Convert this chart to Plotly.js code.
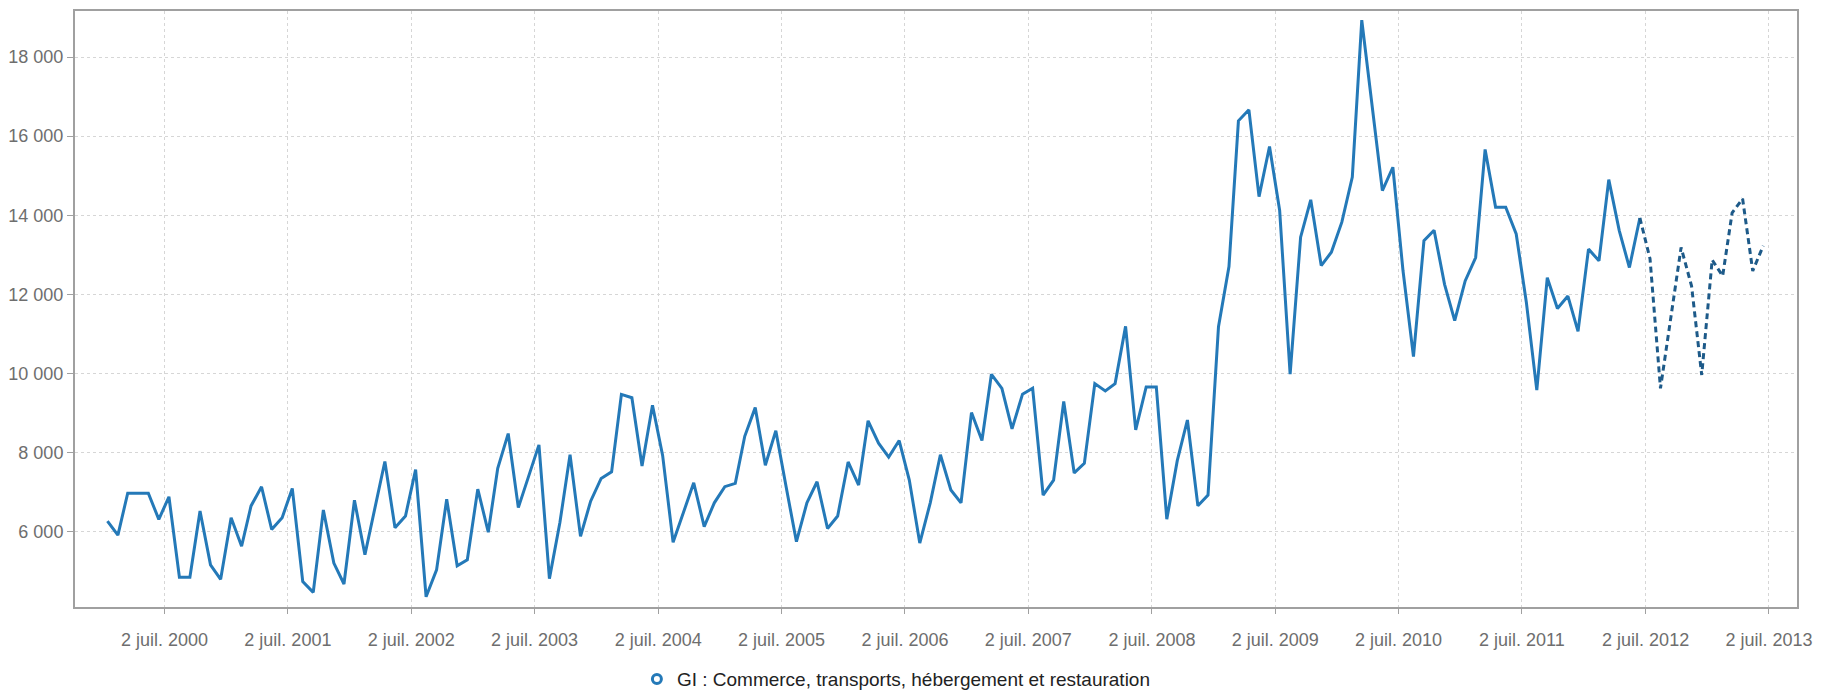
<!DOCTYPE html>
<html>
<head>
<meta charset="utf-8">
<script src="https://cdn.plot.ly/plotly-3.0.1.min.js"></script>
<style>
  html, body { margin: 0; padding: 0; background: #fff; }
  #chart { width: 1823px; height: 698px; }
</style>
</head>
<body>
<div id="chart"></div>
<script>
// Monthly values, observed series: January 2000 to June 2012
const observed = [
  6264, 5906, 6970, 6970, 6970, 6306, 6877, 4843, 4843, 6519, 5157, 4791,
  6349, 5626, 6647, 7132, 6051, 6349, 7089, 4732, 4460, 6545, 5200, 4672,
  6791, 5413, 6519, 7770, 6094, 6391, 7566, 4349, 5030, 6817, 5132, 5285,
  7072, 5983, 7600, 8477, 6604, 7413, 8190, 4808, 6225, 7942, 5875, 6767,
  7342, 7508, 9467, 9383, 7658, 9192, 7925, 5725, 6475, 7233, 6125, 6725,
  7133, 7217, 8408, 9133, 7675, 8550, 7150, 5742, 6725, 7258, 6075, 6392,
  7758, 7175, 8800, 8233, 7883, 8300, 7300, 5708, 6725, 7942, 7050, 6725,
  9008, 8300, 9975, 9620, 8594, 9473, 9623, 6920, 7297, 9289, 7481, 7724,
  9741, 9556, 9741, 11188, 8569, 9657, 9657, 6310, 7791, 8820, 6650, 6920,
  11180, 12700, 16387, 16666, 14470, 15737, 14118, 9980, 13443, 14389, 12725, 13063,
  13823, 14963, 18932, 16700, 14622, 15213, 12600, 10424, 13354, 13620, 12251, 11334,
  12336, 12930, 15664, 14204, 14204, 13525, 11800, 9576, 12420, 11640, 11954, 11063,
  13143, 12846, 14900, 13610, 12676, 13930
];
// Forecast series (dashed): June 2012 to June 2013
const forecast = [
  13930, 12900, 9620, 11500, 13185, 12209, 9959,
  12870, 12463, 14060, 14416, 12590, 13227
];
const observedStart = [2000, 1];
const forecastStart = [2012, 6];
const tickYears = [2000, 2001, 2002, 2003, 2004, 2005, 2006, 2007, 2008, 2009, 2010, 2011, 2012, 2013];
const yTicks = [6000, 8000, 10000, 12000, 14000, 16000, 18000];
const seriesName = "GI : Commerce, transports, hébergement et restauration";

function monthDates(start, n) {
  const out = [];
  let y = start[0], m = start[1];
  for (let i = 0; i < n; i++) {
    out.push(y + "-" + String(m).padStart(2, "0") + "-15");
    m++; if (m > 12) { m = 1; y++; }
  }
  return out;
}

const tickVals = tickYears.map(y => y + "-07-02");
const tickText = tickYears.map(y => "2 juil. " + y);
const yTickText = yTicks.map(v => String(v).replace(/\B(?=(\d{3})+(?!\d))/g, " "));

const font = "Liberation Sans, Arial, sans-serif";

const traces = [
  {
    x: monthDates(observedStart, observed.length),
    y: observed,
    type: "scatter", mode: "lines",
    line: { color: "#2479b8", width: 3 },
    showlegend: false, hoverinfo: "x+y"
  },
  {
    x: monthDates(forecastStart, forecast.length),
    y: forecast,
    type: "scatter", mode: "lines",
    line: { color: "#1d5a89", width: 3, dash: "6px,4px" },
    showlegend: false, hoverinfo: "x+y"
  },
  {
    x: [null], y: [null],
    type: "scatter", mode: "markers",
    name: seriesName,
    marker: { symbol: "circle-open", size: 9, color: "#2479b8", line: { width: 3, color: "#2479b8" } },
    showlegend: true
  }
];

const layout = {
  width: 1823, height: 698,
  margin: { l: 75, r: 26, t: 11, b: 91, autoexpand: false },
  paper_bgcolor: "#ffffff",
  plot_bgcolor: "#ffffff",
  font: { family: font, size: 18, color: "#6e6e6e" },
  xaxis: {
    type: "date",
    automargin: false,
    range: ["1999-10-11", "2013-09-23"],
    tickmode: "array",
    tickvals: tickVals,
    ticktext: tickText,
    showgrid: true,
    gridcolor: "#d6d6d6",
    griddash: "dot",
    gridwidth: 1,
    ticks: "outside",
    ticklen: 5,
    tickcolor: "#a0a0a0",
    ticklabelstandoff: 10,
    showline: true,
    linecolor: "#a0a0a0",
    linewidth: 2,
    mirror: true,
    zeroline: false,
    tickfont: { family: font, size: 18, color: "#6e6e6e" }
  },
  yaxis: {
    automargin: false,
    range: [4090, 19165],
    tickmode: "array",
    tickvals: yTicks,
    ticktext: yTickText,
    showgrid: true,
    gridcolor: "#d6d6d6",
    griddash: "dot",
    gridwidth: 1,
    ticks: "outside",
    ticklen: 6,
    tickcolor: "#a0a0a0",
    showline: true,
    linecolor: "#a0a0a0",
    linewidth: 2,
    mirror: true,
    zeroline: false,
    tickfont: { family: font, size: 18, color: "#6e6e6e" }
  },
  showlegend: true,
  legend: {
    orientation: "h",
    x: 0.477, xanchor: "center",
    y: -0.089, yanchor: "top",
    font: { family: font, size: 19, color: "#222222" },
    itemwidth: 30,
    bgcolor: "rgba(0,0,0,0)"
  }
};

Plotly.newPlot("chart", traces, layout, { displayModeBar: false, staticPlot: true });
</script>
</body>
</html>
